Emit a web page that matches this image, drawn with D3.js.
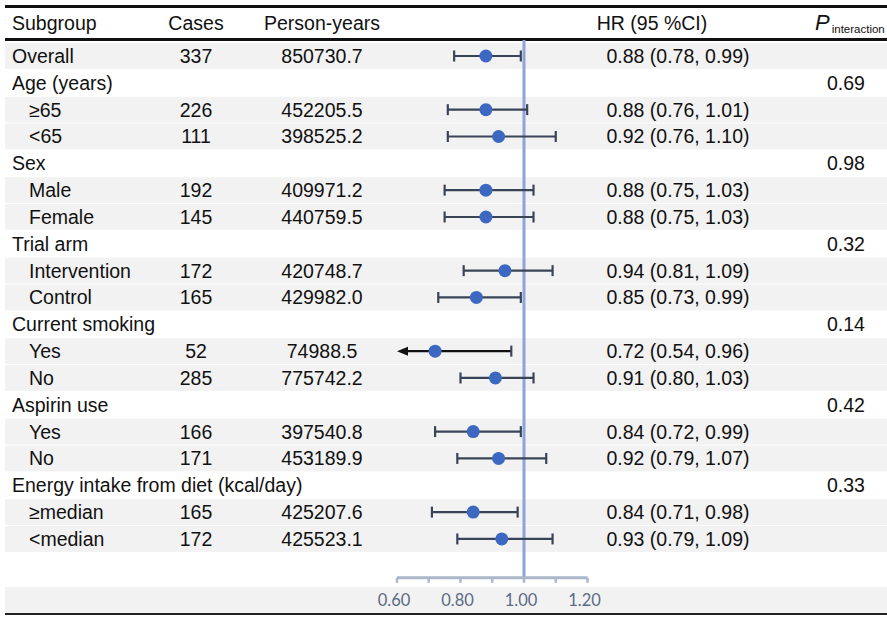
<!DOCTYPE html>
<html>
<head>
<meta charset="utf-8">
<script src="https://cdn.jsdelivr.net/npm/d3@7"></script>
<style>
  html, body { margin: 0; padding: 0; background: #fff; }
  svg { display: block; }
</style>
</head>
<body>
<svg id="chart" width="887" height="617"></svg>
<script>
// ---- Data ----
const subgroups = ["Overall","Age (years)","≥65","<65","Sex","Male","Female","Trial arm","Intervention","Control","Current smoking","Yes","No","Aspirin use","Yes","No","Energy intake from diet (kcal/day)","≥median","<median"];
const rowType = ["item","group","sub","sub","group","sub","sub","group","sub","sub","group","sub","sub","group","sub","sub","group","sub","sub"];
const cases = ["337","","226","111","","192","145","","172","165","","52","285","","166","171","","165","172"];
const personYears = ["850730.7","","452205.5","398525.2","","409971.2","440759.5","","420748.7","429982.0","","74988.5","775742.2","","397540.8","453189.9","","425207.6","425523.1"];
const hr = [0.88,null,0.88,0.92,null,0.88,0.88,null,0.94,0.85,null,0.72,0.91,null,0.84,0.92,null,0.84,0.93];
const lower = [0.78,null,0.76,0.76,null,0.75,0.75,null,0.81,0.73,null,0.54,0.80,null,0.72,0.79,null,0.71,0.79];
const upper = [0.99,null,1.01,1.10,null,1.03,1.03,null,1.09,0.99,null,0.96,1.03,null,0.99,1.07,null,0.98,1.09];
const hrText = ["0.88 (0.78, 0.99)","","0.88 (0.76, 1.01)","0.92 (0.76, 1.10)","","0.88 (0.75, 1.03)","0.88 (0.75, 1.03)","","0.94 (0.81, 1.09)","0.85 (0.73, 0.99)","","0.72 (0.54, 0.96)","0.91 (0.80, 1.03)","","0.84 (0.72, 0.99)","0.92 (0.79, 1.07)","","0.84 (0.71, 0.98)","0.93 (0.79, 1.09)"];
const pInteraction = ["","0.69","","","0.98","","","0.32","","","0.14","","","0.42","","","0.33","",""];
const headers = ["Subgroup","Cases","Person-years","HR (95 %CI)"];
const axisTicks = [0.6,0.7,0.8,0.9,1.0,1.1,1.2];
const axisLabels = [0.6,0.8,1.0,1.2];
const refValue = 1.0;

// ---- Layout ----
const svg = d3.select("#chart");
const W = 887;
const font = "'Liberation Sans', Arial, sans-serif";
const fs = 19.5;
const rowH = 26.83;
const firstCenter = 56;
const y = d3.scaleLinear().domain([0, 1]).range([firstCenter, firstCenter + rowH]);
const x = d3.scaleLinear().domain([0.6, 1.2]).range([397, 587.5]);

const shade = "#f2f2f2";
const nRows = subgroups.length;

// Row shading
subgroups.forEach((s, i) => {
  if (rowType[i] !== "group") {
    svg.append("rect")
      .attr("x", 5).attr("width", W - 5)
      .attr("y", y(i) - rowH / 2 + 0.5).attr("height", rowH - 1)
      .attr("fill", shade);
  }
});
// axis row shade
const axisLineY = y(nRows) + 12;
svg.append("rect").attr("x", 5).attr("width", W - 5)
  .attr("y", 587).attr("height", 26).attr("fill", shade);

// Header lines
svg.append("line").attr("x1", 5).attr("x2", W).attr("y1", 6.5).attr("y2", 6.5)
  .attr("stroke", "#111").attr("stroke-width", 3);
svg.append("line").attr("x1", 5).attr("x2", W).attr("y1", 39.5).attr("y2", 39.5)
  .attr("stroke", "#111").attr("stroke-width", 3);
svg.append("line").attr("x1", 5).attr("x2", W).attr("y1", 614).attr("y2", 614)
  .attr("stroke", "#222").attr("stroke-width", 2);

// Header texts
const hdrY = 29.5;
const T = (sel) => sel.attr("font-family", font).attr("font-size", fs).attr("fill", "#111");
T(svg.append("text")).attr("x", 12).attr("y", hdrY).text(headers[0]);
T(svg.append("text")).attr("x", 196).attr("y", hdrY).attr("text-anchor", "middle").text(headers[1]);
T(svg.append("text")).attr("x", 322).attr("y", hdrY).attr("text-anchor", "middle").text(headers[2]);
T(svg.append("text")).attr("x", 652).attr("y", hdrY).attr("text-anchor", "middle").text(headers[3]);
const ph = svg.append("text").attr("x", 815).attr("y", hdrY).attr("font-family", font).attr("fill", "#111");
ph.append("tspan").attr("font-size", 22).attr("font-style", "italic").text("P");
ph.append("tspan").attr("font-size", 11.5).attr("dx", 2).attr("dy", 3).text("interaction");

// Table text
const rows = svg.append("g");
subgroups.forEach((s, i) => {
  const cy = y(i) + 7;
  T(rows.append("text")).attr("x", rowType[i] === "sub" ? 29 : 12).attr("y", cy).text(s);
  if (cases[i]) T(rows.append("text")).attr("x", 196).attr("y", cy).attr("text-anchor", "middle").text(cases[i]);
  if (personYears[i]) T(rows.append("text")).attr("x", 322).attr("y", cy).attr("text-anchor", "middle").text(personYears[i]);
  if (hrText[i]) T(rows.append("text")).attr("x", 678).attr("y", cy).attr("text-anchor", "middle").text(hrText[i]);
  if (pInteraction[i]) T(rows.append("text")).attr("x", 846).attr("y", cy).attr("text-anchor", "middle").text(pInteraction[i]);
});

// Reference line
svg.append("line").attr("x1", x(refValue)).attr("x2", x(refValue))
  .attr("y1", 40).attr("y2", axisLineY)
  .attr("stroke", "#8ea3d9").attr("stroke-width", 3);

// Axis (bracket style)
const axisColor = "#a9b7c9";
const ag = svg.append("g");
ag.append("line").attr("x1", x(0.6)).attr("x2", x(1.2)).attr("y1", axisLineY).attr("y2", axisLineY)
  .attr("stroke", axisColor).attr("stroke-width", 3);
axisTicks.forEach(t => {
  ag.append("line").attr("x1", x(t)).attr("x2", x(t)).attr("y1", axisLineY).attr("y2", axisLineY + 5)
    .attr("stroke", axisColor).attr("stroke-width", 2.5);
});
axisLabels.forEach(t => {
  ag.append("text").attr("x", x(t) - 3).attr("y", 606).attr("text-anchor", "middle")
    .attr("font-family", "Lato, 'Open Sans', sans-serif").attr("font-size", 16.5)
    .attr("fill", "#5a6b84").text(d3.format(".2f")(t));
});

// Forest marks
const ciColor = "#3a4457";
const dotColor = "#3c68c2";
const capH = 5.5;
const fg = svg.append("g");
hr.forEach((v, i) => {
  if (v == null) return;
  const cy = y(i);
  const lo = lower[i], hi = upper[i];
  const clipped = lo < x.domain()[0];
  const x0 = clipped ? x(x.domain()[0]) : x(lo);
  if (clipped) {
    fg.append("line").attr("x1", x0 + 8).attr("x2", x(hi)).attr("y1", cy).attr("y2", cy)
      .attr("stroke", "#111").attr("stroke-width", 2.2);
    fg.append("path").attr("d", `M${x0},${cy} L${x0 + 11},${cy - 4.5} L${x0 + 11},${cy + 4.5} Z`).attr("fill", "#111");
  } else {
    fg.append("line").attr("x1", x0).attr("x2", x(hi)).attr("y1", cy).attr("y2", cy)
      .attr("stroke", ciColor).attr("stroke-width", 2.2);
    fg.append("line").attr("x1", x0).attr("x2", x0).attr("y1", cy - capH).attr("y2", cy + capH)
      .attr("stroke", ciColor).attr("stroke-width", 2.2);
  }
  fg.append("line").attr("x1", x(hi)).attr("x2", x(hi)).attr("y1", cy - capH).attr("y2", cy + capH)
    .attr("stroke", ciColor).attr("stroke-width", 2.2);
  fg.append("circle").attr("cx", x(v)).attr("cy", cy).attr("r", 6.5).attr("fill", dotColor);
});
</script>
</body>
</html>
